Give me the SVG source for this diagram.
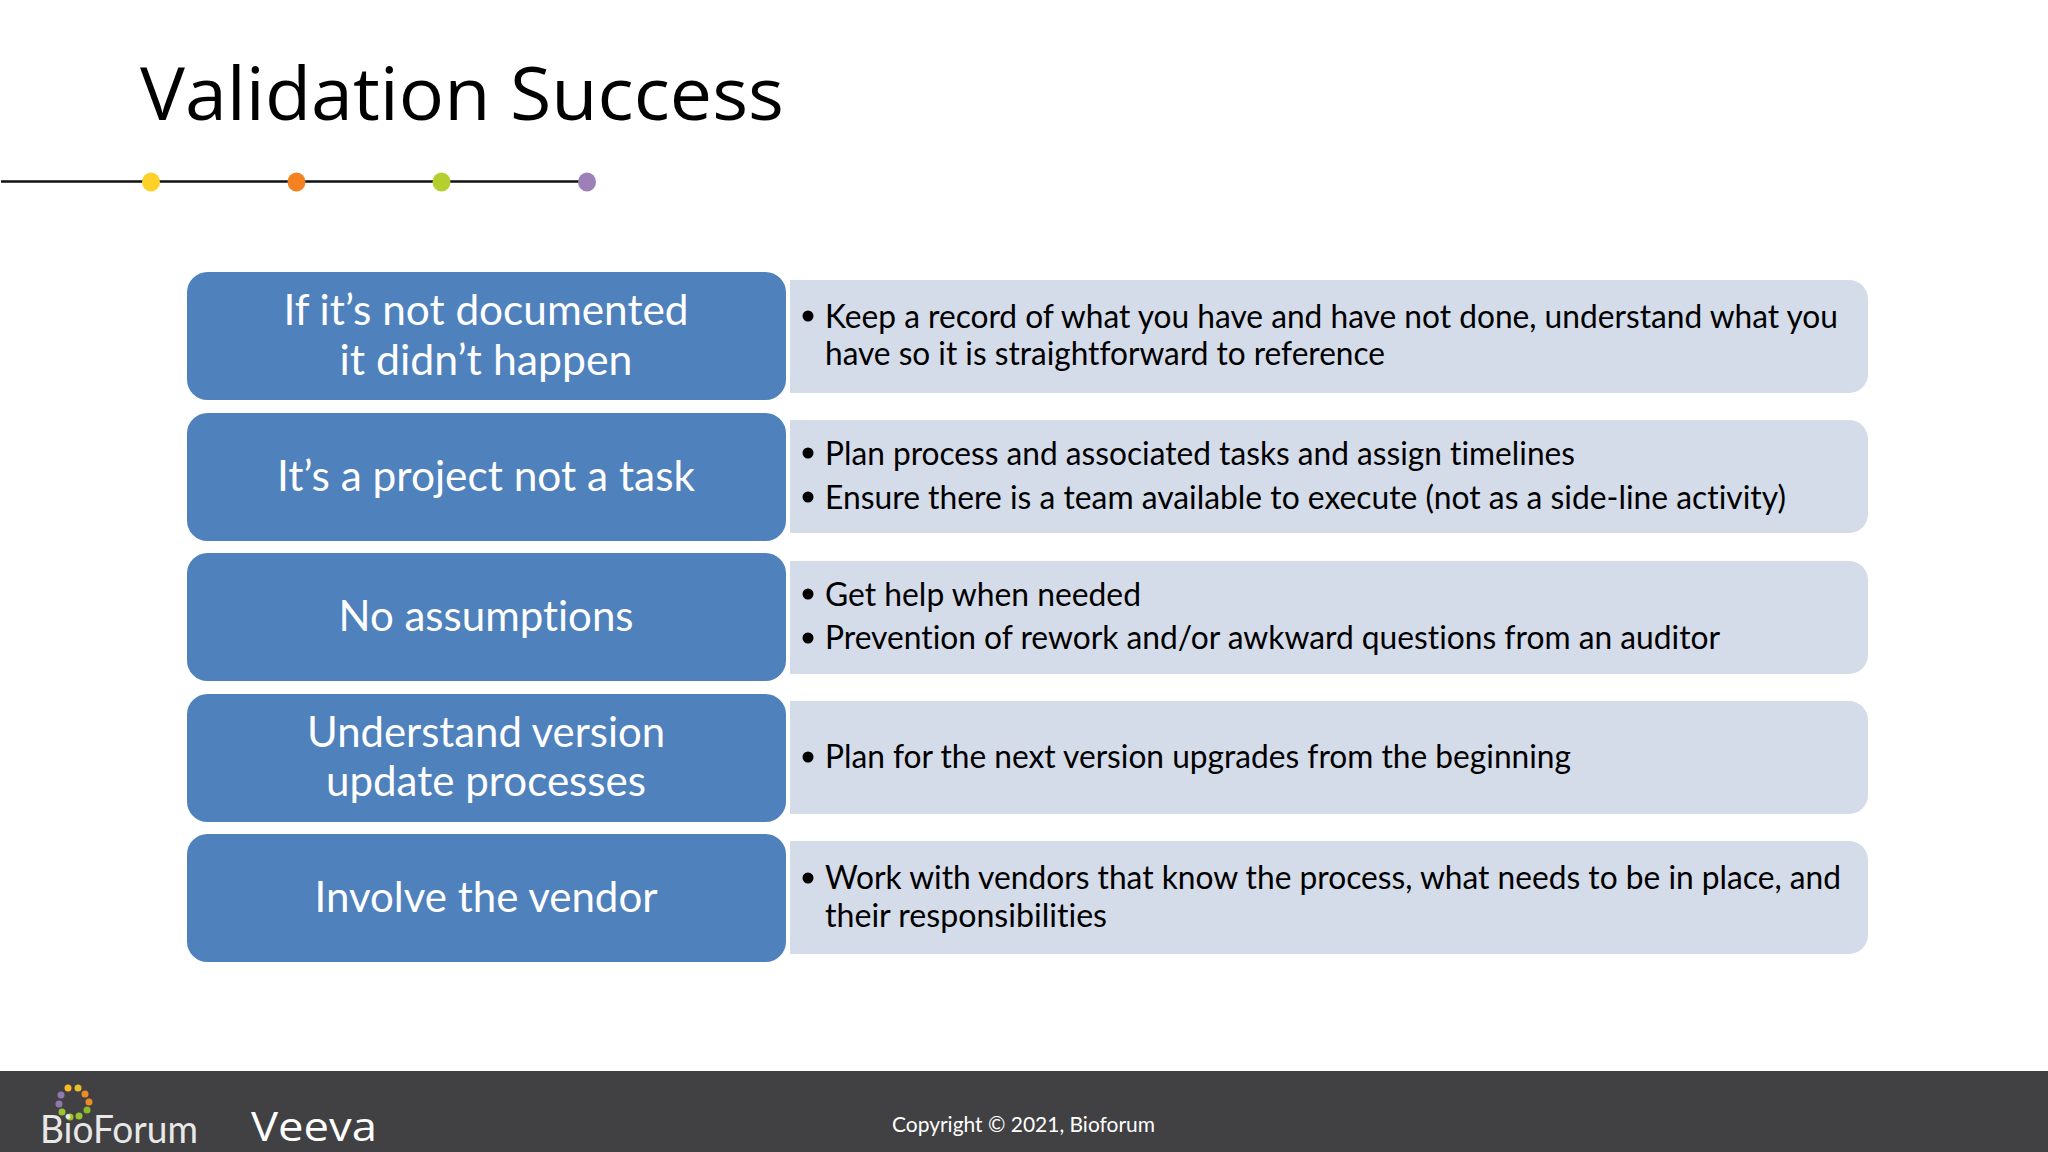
<svg xmlns="http://www.w3.org/2000/svg" width="2048" height="1152" viewBox="0 0 2048 1152">
<style>
text{font-family:Lato,"Open Sans",sans-serif;font-variant-ligatures:none}
.l{fill:#4f81bd}
.r{fill:#d4dbe9}
.h{font-size:42px;fill:#fff;text-anchor:middle}
.b{font-size:32px;fill:#000}
.d{fill:#000}
.c{stroke:#fff;stroke-width:3}
</style>
<rect width="2048" height="1152" fill="#fff"/>
<text x="140" y="120" style="font-family:'Open Sans',sans-serif;font-weight:400" font-size="74" textLength="644" lengthAdjust="spacingAndGlyphs">Validation Success</text>
<g id="connectors"><path d="M1 181.500H587" stroke="#111" stroke-width="2.500" fill="none"/></g>
<g id="dots"><ellipse cx="151" cy="182" rx="9" ry="9.500" fill="#fdd128"/><ellipse cx="296.500" cy="182" rx="9" ry="9.500" fill="#f58220"/><ellipse cx="441.500" cy="182" rx="9" ry="9.500" fill="#b5cf2f"/><ellipse cx="587" cy="182" rx="9" ry="9.500" fill="#9e80b8"/></g>
<g id="row1"><path class="r" d="M790 280H1849a19 19 0 0 1 19 19V374a19 19 0 0 1-19 19H790Z"/><rect class="l c" x="185.500" y="270.500" width="602" height="131" rx="22"/>
<text class="h" x="486" y="325" textLength="405" lengthAdjust="spacingAndGlyphs">If it’s not documented</text><text class="h" x="486" y="375" textLength="293" lengthAdjust="spacingAndGlyphs">it didn’t happen</text>
<circle class="d" cx="808" cy="316" r="5.500"/><text class="b" x="825" y="328" textLength="1013" lengthAdjust="spacingAndGlyphs">Keep a record of what you have and have not done, understand what you</text><text class="b" x="825" y="365" textLength="560" lengthAdjust="spacingAndGlyphs">have so it is straightforward to reference</text></g>
<g id="row2"><path class="r" d="M790 420H1849a19 19 0 0 1 19 19V514a19 19 0 0 1-19 19H790Z"/><rect class="l c" x="185.500" y="411.500" width="602" height="131" rx="22"/>
<text class="h" x="486" y="491" textLength="418" lengthAdjust="spacingAndGlyphs">It’s a project not a task</text>
<circle class="d" cx="808" cy="453" r="5.500"/><text class="b" x="825" y="465" textLength="750" lengthAdjust="spacingAndGlyphs">Plan process and associated tasks and assign timelines</text>
<circle class="d" cx="808" cy="497" r="5.500"/><text class="b" x="825" y="509" textLength="961" lengthAdjust="spacingAndGlyphs">Ensure there is a team available to execute (not as a side-line activity)</text></g>
<g id="row3"><path class="r" d="M790 561H1849a19 19 0 0 1 19 19V655a19 19 0 0 1-19 19H790Z"/><rect class="l c" x="185.500" y="551.500" width="602" height="131" rx="22"/>
<text class="h" x="486" y="631" textLength="295" lengthAdjust="spacingAndGlyphs">No assumptions</text>
<circle class="d" cx="808" cy="594" r="5.500"/><text class="b" x="825" y="606" textLength="316" lengthAdjust="spacingAndGlyphs">Get help when needed</text>
<circle class="d" cx="808" cy="638" r="5.500"/><text class="b" x="825" y="649" textLength="895" lengthAdjust="spacingAndGlyphs">Prevention of rework and/or awkward questions from an auditor</text></g>
<g id="row4"><path class="r" d="M790 701H1849a19 19 0 0 1 19 19V795a19 19 0 0 1-19 19H790Z"/><rect class="l c" x="185.500" y="692.500" width="602" height="131" rx="22"/>
<text class="h" x="486" y="747" textLength="358" lengthAdjust="spacingAndGlyphs">Understand version</text><text class="h" x="486" y="796" textLength="320" lengthAdjust="spacingAndGlyphs">update processes</text>
<circle class="d" cx="808" cy="757" r="5.500"/><text class="b" x="825" y="768" textLength="746" lengthAdjust="spacingAndGlyphs">Plan for the next version upgrades from the beginning</text></g>
<g id="row5"><path class="r" d="M790 841H1849a19 19 0 0 1 19 19V935a19 19 0 0 1-19 19H790Z"/><rect class="l c" x="185.500" y="832.500" width="602" height="131" rx="22"/>
<text class="h" x="486" y="912" textLength="343" lengthAdjust="spacingAndGlyphs">Involve the vendor</text>
<circle class="d" cx="808" cy="878" r="5.500"/><text class="b" x="825" y="889" textLength="1016" lengthAdjust="spacingAndGlyphs">Work with vendors that know the process, what needs to be in place, and</text><text class="b" x="825" y="927" textLength="282" lengthAdjust="spacingAndGlyphs">their responsibilities</text></g>
<g id="footer"><rect y="1071" width="2048" height="81" fill="#414042"/>
<g id="bioforum-logo"><circle cx="68" cy="1088" r="3.500" fill="#fbb82b"/><circle cx="78" cy="1088" r="3.500" fill="#e9c02c"/><circle cx="85" cy="1094" r="3.500" fill="#f08a24"/><circle cx="89" cy="1102" r="3.500" fill="#ee8a24"/><circle cx="87" cy="1110" r="3.500" fill="#8db82e"/><circle cx="79" cy="1116" r="3.500" fill="#9cc22e"/><circle cx="70" cy="1117" r="3.500" fill="#9cc22e"/><circle cx="62" cy="1112" r="3.500" fill="#9cc22e"/><circle cx="59" cy="1104" r="3.500" fill="#8f78ab"/><circle cx="61" cy="1095" r="3.500" fill="#8f78ab"/>
<text x="40" y="1143" font-size="38" fill="#e8e8e8" textLength="158" lengthAdjust="spacingAndGlyphs">BioForum</text></g>
<g id="veeva-logo"><text x="251" y="1141" font-size="40" fill="#fff" textLength="126" lengthAdjust="spacingAndGlyphs" style="font-family:'Open Sans',sans-serif;font-weight:400">Veeva</text></g>
<text x="892" y="1132" font-size="21" fill="#fff" textLength="263" lengthAdjust="spacingAndGlyphs">Copyright © 2021, Bioforum</text></g>
</svg>
